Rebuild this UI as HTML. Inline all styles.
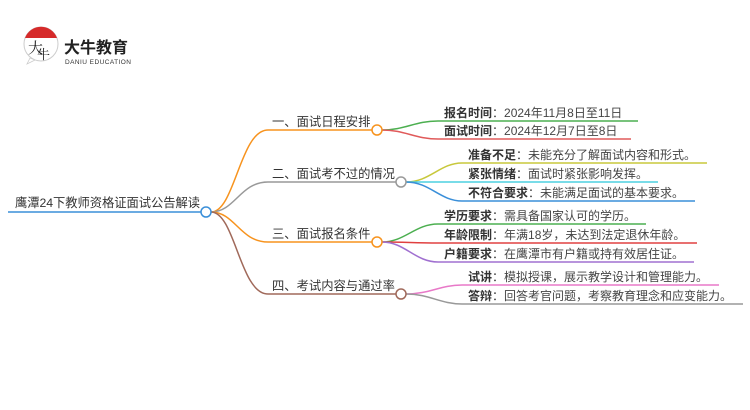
<!DOCTYPE html>
<html><head><meta charset="utf-8"><style>
html,body{margin:0;padding:0;background:#fff;}
svg{display:block;}
text{font-family:"Liberation Sans","Noto Sans CJK SC",sans-serif;}
.b{font-size:12.3px;fill:#333;}
.l{font-size:12px;fill:#444;}
.lb{font-weight:bold;fill:#333;}
</style></head><body>
<svg width="750" height="410" viewBox="0 0 750 410" xmlns="http://www.w3.org/2000/svg">
<!-- logo -->
<circle cx="41" cy="44" r="17" fill="#fff" stroke="#ccc" stroke-width="1"/>
<path d="M25 38 A17 17 0 0 1 57 38 Z" fill="#d62a2a"/>
<path d="M30 58 L27 64 L35 60 Z" fill="#fff" stroke="#ccc" stroke-width="0.8"/>
<text x="28" y="53" style="font-size:15px;fill:#222;font-family:'Noto Serif CJK SC',serif">大</text>
<text x="37" y="59" style="font-size:13px;fill:#222;font-family:'Noto Serif CJK SC',serif">牛</text>
<text x="64" y="53" style="font-size:16px;font-weight:bold;fill:#222">大牛教育</text>
<text x="65" y="64" style="font-size:6.5px;fill:#333" textLength="66">DANIU EDUCATION</text>

<!-- root -->
<line x1="8" y1="212" x2="201" y2="212" stroke="#3a8fd9" stroke-width="1.5"/>
<text x="15" y="207" class="b" textLength="185">鹰潭24下教师资格证面试公告解读</text>

<!-- main branches -->
<g fill="none" stroke-width="1.5">
<path d="M211 212 C235 212,240 130,268 130 L372 130" stroke="#f7931e"/>
<path d="M211 212 C235 212,240 182,268 182 L396 182" stroke="#999"/>
<path d="M211 212 C235 212,240 242,268 242 L372 242" stroke="#f7931e"/>
<path d="M211 212 C235 212,240 294,268 294 L396 294" stroke="#a0695a"/>
</g>
<circle cx="206" cy="212" r="5" fill="#fff" stroke="#3a8fd9" stroke-width="1.5"/>
<text x="272" y="126" class="b">一、面试日程安排</text>
<text x="272" y="178" class="b">二、面试考不过的情况</text>
<text x="272" y="238" class="b">三、面试报名条件</text>
<text x="272" y="290" class="b">四、考试内容与通过率</text>

<!-- leaves -->
<g fill="none" stroke-width="1.5">
<path d="M382 130 C405 130,415 121,438 121 L638 121" stroke="#4caf50"/>
<path d="M382 130 C405 130,415 139,438 139 L631 139" stroke="#e05a5a"/>
<path d="M406 182 C430 182,440 163,462 163 L707 163" stroke="#c8c83c"/>
<path d="M406 182 C430 182,440 182,462 182 L658 182" stroke="#4dd0e1"/>
<path d="M406 182 C430 182,440 201,462 201 L695 201" stroke="#3a8fd9"/>
<path d="M382 242 C405 242,415 224,438 224 L646 224" stroke="#4caf50"/>
<path d="M382 242 C405 242,415 243,438 243 L697 243" stroke="#e04040"/>
<path d="M382 242 C405 242,415 262,438 262 L694 262" stroke="#a070d0"/>
<path d="M406 294 C430 294,440 285,462 285 L719 285" stroke="#e879c8"/>
<path d="M406 294 C430 294,440 304,462 304 L743 304" stroke="#999"/>
</g>
<circle cx="377" cy="130" r="5" fill="#fff" stroke="#f7931e" stroke-width="1.5"/>
<circle cx="401" cy="182" r="5" fill="#fff" stroke="#999" stroke-width="1.5"/>
<circle cx="377" cy="242" r="5" fill="#fff" stroke="#f7931e" stroke-width="1.5"/>
<circle cx="401" cy="294" r="5" fill="#fff" stroke="#a0695a" stroke-width="1.5"/>

<text x="444" y="117" class="l"><tspan class="lb">报名时间</tspan>：2024年11月8日至11日</text>
<text x="444" y="135" class="l"><tspan class="lb">面试时间</tspan>：2024年12月7日至8日</text>
<text x="468" y="159" class="l"><tspan class="lb">准备不足</tspan>：未能充分了解面试内容和形式。</text>
<text x="468" y="178" class="l"><tspan class="lb">紧张情绪</tspan>：面试时紧张影响发挥。</text>
<text x="468" y="197" class="l"><tspan class="lb">不符合要求</tspan>：未能满足面试的基本要求。</text>
<text x="444" y="220" class="l"><tspan class="lb">学历要求</tspan>：需具备国家认可的学历。</text>
<text x="444" y="239" class="l"><tspan class="lb">年龄限制</tspan>：年满18岁，未达到法定退休年龄。</text>
<text x="444" y="258" class="l"><tspan class="lb">户籍要求</tspan>：在鹰潭市有户籍或持有效居住证。</text>
<text x="468" y="281" class="l"><tspan class="lb">试讲</tspan>：模拟授课，展示教学设计和管理能力。</text>
<text x="468" y="300" class="l"><tspan class="lb">答辩</tspan>：回答考官问题，考察教育理念和应变能力。</text>
</svg>
</body></html>
